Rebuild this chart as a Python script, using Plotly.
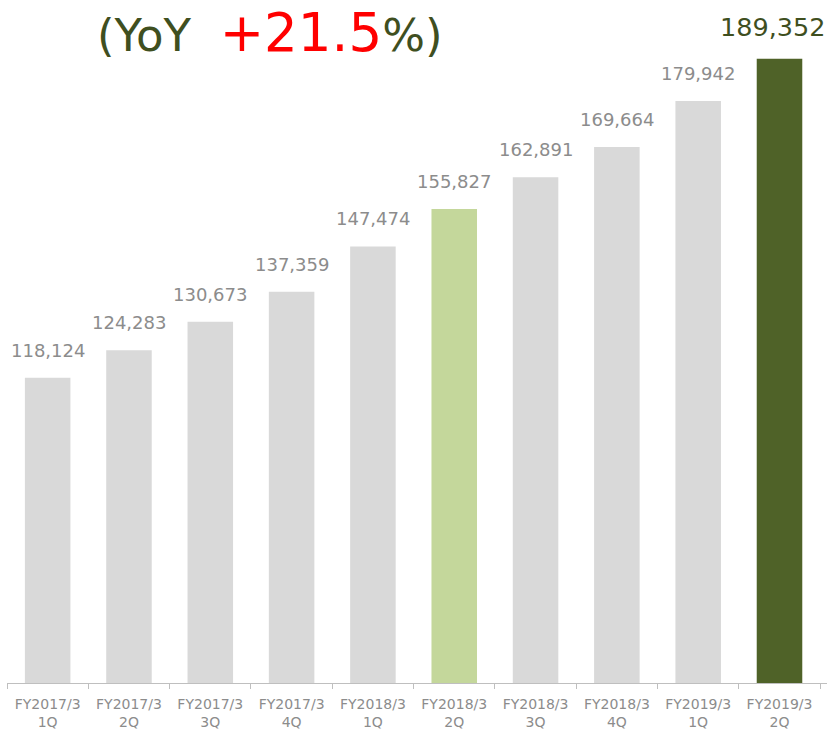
import plotly.graph_objects as go

categories = ["FY2017/3<br>1Q", "FY2017/3<br>2Q", "FY2017/3<br>3Q", "FY2017/3<br>4Q",
              "FY2018/3<br>1Q", "FY2018/3<br>2Q", "FY2018/3<br>3Q", "FY2018/3<br>4Q",
              "FY2019/3<br>1Q", "FY2019/3<br>2Q"]
values = [118124, 124283, 130673, 137359, 147474, 155827, 162891, 169664, 179942, 189352]
bar_colors = ["#D9D9D9"] * 5 + ["#C4D79B"] + ["#D9D9D9"] * 3 + ["#4F6228"]
label_colors = ["#8C8C8C"] * 9 + ["#3F4F1F"]
label_sizes = [18] * 9 + [25.5]
label_yshifts = [15] * 9 + [15]
label_xshifts = [0] * 9 + [-7]

FONT = "DejaVu Sans"

fig = go.Figure(go.Bar(
    x=categories, y=values, marker_color=bar_colors, marker_line_width=0,
    hoverinfo="skip",
))

for c, v, col, sz, sy, sx in zip(categories, values, label_colors, label_sizes,
                                  label_yshifts, label_xshifts):
    fig.add_annotation(x=c, y=v, text=f"{v:,}", showarrow=False, yanchor="bottom",
                       yshift=sy, xshift=sx, font=dict(family=FONT, size=sz, color=col))

fig.add_annotation(
    xref="paper", yref="paper", x=0.1073, y=1.0, xanchor="left", yanchor="top", yshift=0,
    text="(YoY&nbsp;&nbsp;<span style='color:#FF0000;font-size:53px'>+21.5</span>%)",
    showarrow=False, font=dict(family=FONT, size=45, color="#3F4F1F"),
)

fig.update_layout(
    width=834, height=731,
    margin=dict(l=7, r=7, t=0, b=48),
    plot_bgcolor="white", paper_bgcolor="white",
    bargap=0.44, showlegend=False,
    font=dict(family=FONT),
    hovermode=False,
)
fig.update_xaxes(
    showline=True, linecolor="#BFBFBF", linewidth=1,
    ticks="outside", tickson="boundaries", ticklen=5, tickcolor="#BFBFBF",
    tickfont=dict(family=FONT, size=14, color="#8C8C8C"), showgrid=False,
    automargin=False, tickangle=0, ticklabelstandoff=8,
)
fig.update_yaxes(range=[50000, 202490], visible=False, showgrid=False)

fig.write_html(
    "out.html",
    config={"displayModeBar": False},
    post_script="document.body.style.margin='0';document.body.style.overflow='hidden';",
)
